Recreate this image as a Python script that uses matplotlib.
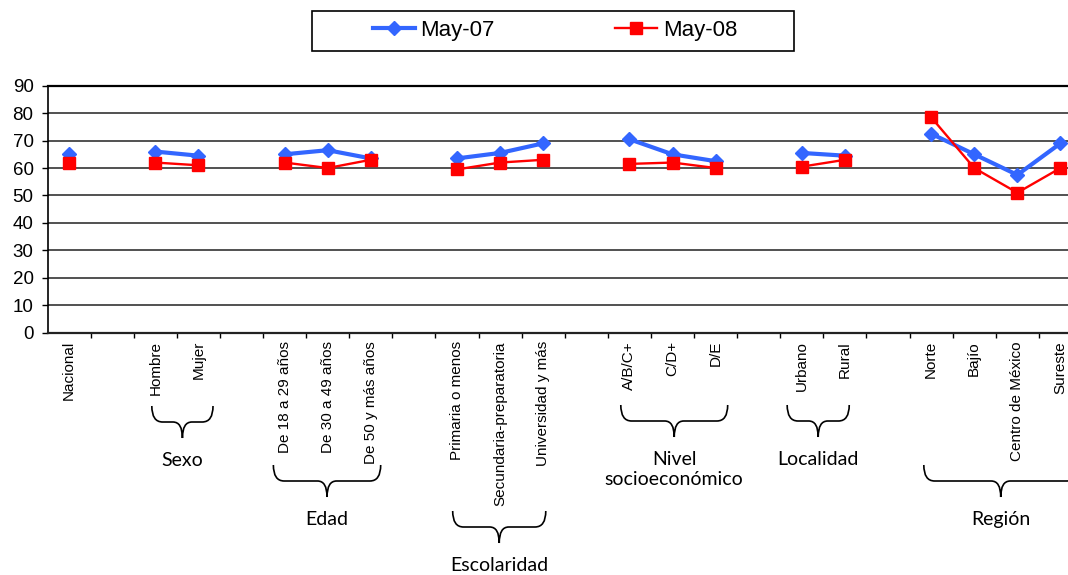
import numpy as np
import matplotlib
matplotlib.use("Agg")
from matplotlib import pyplot as plt
from matplotlib.path import Path
from matplotlib.patches import PathPatch, Rectangle
from matplotlib import transforms

# categories ("" = empty slot between groups, as in the original sheet)
categories = ["Nacional", "",
              "Hombre", "Mujer", "",
              "De 18 a 29 años", "De 30 a 49 años", "De 50 y más años", "",
              "Primaria o menos", "Secundaria-preparatoria", "Universidad y más", "",
              "A/B/C+", "C/D+", "D/E", "",
              "Urbano", "Rural", "",
              "Norte", "Bajío", "Centro de México", "Sureste"]

nan = np.nan
may07 = [65, nan,
         66, 64.5, nan,
         65, 66.5, 63.5, nan,
         63.5, 65.5, 69, nan,
         70.5, 65, 62.5, nan,
         65.5, 64.5, nan,
         72.5, 65, 57.5, 69]
may08 = [62, nan,
         62, 61, nan,
         62, 60, 63, nan,
         59.5, 62, 63, nan,
         61.5, 62, 60, nan,
         60.5, 63, nan,
         78.5, 60, 51, 60]

series_names = ["May-07", "May-08"]

groups = ["Sexo", "Edad", "Escolaridad", "Nivel\nsocioeconómico", "Localidad", "Región"]
group_members = [["Hombre", "Mujer"],
                 ["De 18 a 29 años", "De 30 a 49 años", "De 50 y más años"],
                 ["Primaria o menos", "Secundaria-preparatoria", "Universidad y más"],
                 ["A/B/C+", "C/D+", "D/E"],
                 ["Urbano", "Rural"],
                 ["Norte", "Bajío", "Centro de México", "Sureste"]]

# brace layout (top of brace in image pixels, extra reach left/right in slots)
brace_top = [406, 465, 511, 405, 405, 465]
brace_pad = [(0.08, 0.34), (0.26, 0.23), (0.10, 0.06), (0.20, 0.28), (0.34, 0.10), (0.17, 0.40)]

W, H = 1068, 575
BLUE = "#3366FF"
RED = "#FF0000"


def py(ypix):
    return 1 - ypix / H


def brace(ax, trans, x0, x1, ytop):
    yf = py(ytop + 16)
    yt = py(ytop)
    yp = py(ytop + 32)
    xc = (x0 + x1) / 2
    r = 0.25
    r2 = 0.22
    verts = [(x0, yt),
             (x0, yf), (x0 + r, yf),
             (xc - r2, yf),
             (xc, yf), (xc, yp),
             (xc, yf), (xc + r2, yf),
             (x1 - r, yf),
             (x1, yf), (x1, yt)]
    codes = [Path.MOVETO, Path.CURVE3, Path.CURVE3, Path.LINETO,
             Path.CURVE3, Path.CURVE3, Path.CURVE3, Path.CURVE3,
             Path.LINETO, Path.CURVE3, Path.CURVE3]
    patch = PathPatch(Path(verts, codes), transform=trans, fill=False,
                      lw=1.2, ec="black", clip_on=False)
    ax.add_artist(patch)
    return xc, ytop + 32


fig = plt.figure(figsize=(W / 100, H / 100), dpi=100)
fig.patch.set_facecolor("white")
ax = fig.add_axes([47.5 / W, (H - 332.7) / H, (1082 - 47.5) / W, 247 / H])

x = np.arange(len(categories))
l1, = ax.plot(x, may07, color=BLUE, lw=3.0, marker="D", markersize=6.8,
              markerfacecolor=BLUE, markeredgecolor=BLUE, zorder=3)
l2, = ax.plot(x, may08, color=RED, lw=1.7, marker="s", markersize=9,
              markerfacecolor=RED, markeredgecolor=RED, zorder=4)

ax.set_xlim(-0.5, len(categories) - 0.5)
ax.set_ylim(0, 90)
ax.set_yticks(range(0, 91, 10))
for v in range(10, 90, 10):
    ax.axhline(v, color="#222222", lw=1.1, zorder=1)

ax.set_xticks(x)
ax.set_xticklabels(categories, rotation=90, fontsize=11,
                   family=["Liberation Sans", "DejaVu Sans"])
ax.set_xticks(np.arange(len(categories)) + 0.5, minor=True)
ax.tick_params(axis="x", which="major", length=0, pad=6)
ax.tick_params(axis="x", which="minor", length=3.5, width=1, direction="out")
ax.tick_params(axis="y", length=4.5, width=1, pad=5.5, labelsize=13.5)
for t in ax.get_yticklabels():
    t.set_family(["Liberation Sans", "DejaVu Sans"])

ax.spines["right"].set_visible(False)
ax.spines["left"].set_linewidth(1.2)
ax.spines["bottom"].set_linewidth(1.6)
ax.spines["bottom"].set_color("#222222")
ax.spines["top"].set_linewidth(1.6)

# group braces and labels
trans = transforms.blended_transform_factory(ax.transData, fig.transFigure)
for name, members, top, pad in zip(groups, group_members, brace_top, brace_pad):
    i0 = categories.index(members[0])
    i1 = categories.index(members[-1])
    xc, ytip = brace(ax, trans, i0 - pad[0], i1 + pad[1], top)
    ax.text(xc, py(ytip + 14), name, transform=trans, ha="center", va="top",
            fontsize=14, family=["Lato", "DejaVu Sans"], fontweight="normal",
            linespacing=1.2, clip_on=False)

# legend with its own box
fig.legend([l1, l2], series_names, loc="center",
           bbox_to_anchor=(555 / W, py(30.5)), ncol=2, frameon=False,
           handlelength=1.9, handletextpad=0.25, columnspacing=5.4,
           prop={"family": ["Liberation Sans", "DejaVu Sans"], "size": 16})
fig.patches.append(Rectangle((312 / W, py(50.7)), 482 / W, 39.7 / H,
                             transform=fig.transFigure, fill=False,
                             lw=1.2, ec="black"))

fig.savefig("out.png", dpi=100)
